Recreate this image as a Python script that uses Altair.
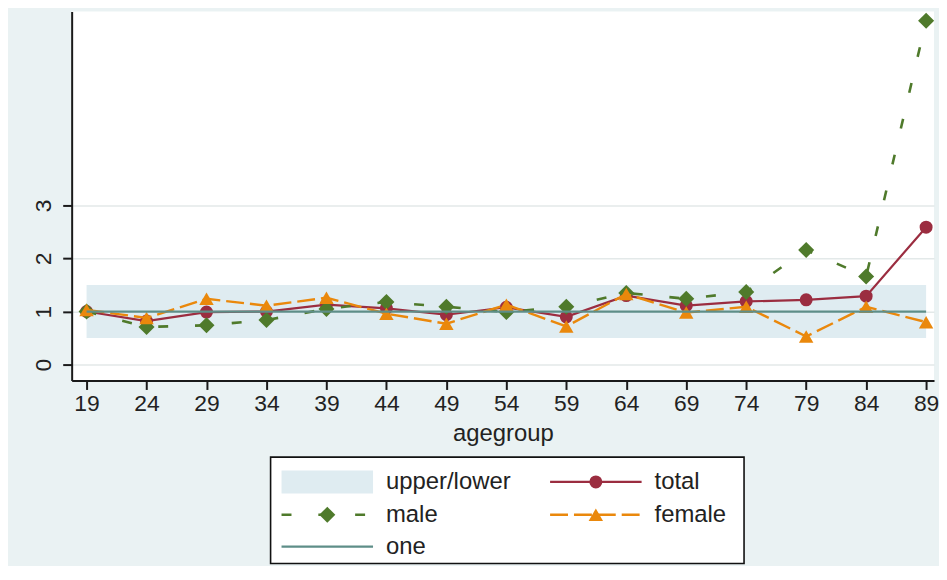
import altair as alt
import pandas as pd

# ---------------- data ----------------
ages = [19, 24, 29, 34, 39, 44, 49, 54, 59, 64, 69, 74, 79, 84, 89]
total = [1.00, 0.82, 0.99, 1.00, 1.13, 1.06, 0.94, 1.08, 0.90, 1.30, 1.11, 1.19, 1.22, 1.29, 2.59]
male = [1.00, 0.71, 0.74, 0.84, 1.05, 1.18, 1.09, 0.99, 1.09, 1.35, 1.24, 1.37, 2.16, 1.66, 6.48]
female = [1.03, 0.88, 1.24, 1.11, 1.26, 0.96, 0.77, 1.13, 0.72, 1.33, 0.98, 1.09, 0.53, 1.09, 0.80]
lower = [0.5, 0.5, 0.5, 0.5, 0.5, 0.5, 0.5, 0.5, 0.5, 0.5, 0.5, 0.5, 0.5, 0.5, 0.5]
upper = [1.5, 1.5, 1.5, 1.5, 1.5, 1.5, 1.5, 1.5, 1.5, 1.5, 1.5, 1.5, 1.5, 1.5, 1.5]
one = [1, 1, 1, 1, 1, 1, 1, 1, 1, 1, 1, 1, 1, 1, 1]
y_ticks = [0, 1, 2, 3]

legend_labels = ["upper/lower", "total", "male", "female", "one"]
legend_cols = [0, 1, 0, 1, 0]
legend_rows = [0, 0, 1, 1, 2]

# ---------------- styles ----------------
BG = "#eaf2f3"
BAND = "#dfecf1"
C_TOTAL = "#9b2d40"
C_MALE = "#4f7a2b"
C_FEMALE = "#ea880c"
C_ONE = "#5e8e88"
AX = "#1a1a1a"
TXT = "#222222"
FONT = "Liberation Sans"
DASH_MALE = [10, 27]
DASH_FEMALE = [18, 6]

PLOT_W = 867
PLOT_H = 371

df = pd.DataFrame({"age": ages, "total": total, "male": male, "female": female,
                   "lower": lower, "upper": upper, "one": one})

xs = alt.Scale(domain=[17.756, 89.66], nice=False, zero=False)
ys = alt.Scale(domain=[-0.3, 6.656], nice=False, zero=False)

xaxis = alt.Axis(values=ages, format="d", title="agegroup", grid=False,
                 domainColor=AX, domainWidth=2, tickColor=AX, tickWidth=2, tickSize=9,
                 labelFontSize=23, labelPadding=3, labelColor=TXT, labelFont=FONT,
                 titleFontSize=24, titleFontWeight="normal", titleColor=TXT, titleFont=FONT,
                 titlePadding=6)
yaxis = alt.Axis(values=y_ticks, format="d", title=None, grid=True, gridColor="#e3e9e9",
                 gridWidth=1.5, domainColor=AX, domainWidth=2, tickColor=AX, tickWidth=2,
                 tickSize=9, labelAngle=270, labelAlign="center", labelBaseline="alphabetic",
                 labelPadding=12, labelFontSize=23, labelColor=TXT, labelFont=FONT)

X = alt.X("age:Q", scale=xs, axis=xaxis)

band = alt.Chart(df).mark_area(color=BAND, opacity=1).encode(
    x=X, y=alt.Y("upper:Q", scale=ys, axis=yaxis), y2="lower:Q")

total_line = alt.Chart(df).mark_line(color=C_TOTAL, strokeWidth=2.2).encode(
    x="age:Q", y="total:Q")
total_pts = alt.Chart(df).mark_point(shape="circle", filled=True, size=170, color=C_TOTAL,
                                     opacity=1).encode(x="age:Q", y="total:Q")
male_line = alt.Chart(df).mark_line(color=C_MALE, strokeWidth=2.6, strokeDash=DASH_MALE).encode(
    x="age:Q", y="male:Q")
male_pts = alt.Chart(df).mark_point(shape="diamond", filled=True, size=260, color=C_MALE,
                                    opacity=1).encode(x="age:Q", y="male:Q")
female_line = alt.Chart(df).mark_line(color=C_FEMALE, strokeWidth=2.4,
                                      strokeDash=DASH_FEMALE).encode(x="age:Q", y="female:Q")
female_pts = alt.Chart(df).mark_point(shape="triangle-up", filled=True, size=210,
                                      color=C_FEMALE, opacity=1).encode(x="age:Q", y="female:Q")
one_line = alt.Chart(df).mark_line(color=C_ONE, strokeWidth=2.2).encode(x="age:Q", y="one:Q")

main = alt.layer(band, total_line, total_pts, male_line, male_pts, female_line, female_pts,
                 one_line).properties(width=PLOT_W, height=PLOT_H,
                                      view=alt.ViewBackground(fill="white", strokeWidth=0))

# ---------------- legend panel ----------------
COL_X0 = [211, 481]
SW_LEN = 92
ROW_Y = [25, 58, 90]
BOX_X = [200, 676]
BOX_H = 107

leg = pd.DataFrame({"label": legend_labels, "col": legend_cols, "row": legend_rows})
leg["x0"] = [COL_X0[c] for c in leg["col"]]
leg["x1"] = leg["x0"] + SW_LEN
leg["xm"] = leg["x0"] + SW_LEN / 2
leg["xt"] = leg["x0"] + 105
leg["y"] = [ROW_Y[r] for r in leg["row"]]
leg["y0"] = leg["y"] - 11.5
leg["y1"] = leg["y"] + 11.5

lxs = alt.Scale(domain=[0, PLOT_W], nice=False, zero=False)
lys = alt.Scale(domain=[0, BOX_H], nice=False, zero=False, reverse=True)

box_df = pd.DataFrame({"bx0": [BOX_X[0]], "bx1": [BOX_X[1]], "by0": [0], "by1": [BOX_H]})
box = alt.Chart(box_df).mark_rect(fill="white", stroke="#111111", strokeWidth=1.6).encode(
    x=alt.X("bx0:Q", scale=lxs, axis=None), x2="bx1:Q",
    y=alt.Y("by0:Q", scale=lys, axis=None), y2="by1:Q")

lb = alt.Chart(leg)


def sel(name):
    return lb.transform_filter(alt.datum.label == name)


sw_band = sel("upper/lower").mark_rect(fill=BAND).encode(
    x="x0:Q", x2="x1:Q", y="y0:Q", y2="y1:Q")
sw_total = sel("total").mark_rule(color=C_TOTAL, strokeWidth=2.2).encode(
    x="x0:Q", x2="x1:Q", y="y:Q")
sw_total_pt = sel("total").mark_point(shape="circle", filled=True, size=170, color=C_TOTAL,
                                      opacity=1).encode(x="xm:Q", y="y:Q")
sw_male = sel("male").mark_rule(color=C_MALE, strokeWidth=2.6, strokeDash=DASH_MALE).encode(
    x="x0:Q", x2="x1:Q", y="y:Q")
sw_male_pt = sel("male").mark_point(shape="diamond", filled=True, size=260, color=C_MALE,
                                    opacity=1).encode(x="xm:Q", y="y:Q")
sw_female = sel("female").mark_rule(color=C_FEMALE, strokeWidth=2.4,
                                    strokeDash=DASH_FEMALE).encode(x="x0:Q", x2="x1:Q", y="y:Q")
sw_female_pt = sel("female").mark_point(shape="triangle-up", filled=True, size=210,
                                        color=C_FEMALE, opacity=1).encode(x="xm:Q", y="y:Q")
sw_one = sel("one").mark_rule(color=C_ONE, strokeWidth=2.2).encode(x="x0:Q", x2="x1:Q", y="y:Q")
texts = lb.mark_text(align="left", baseline="middle", fontSize=24, font=FONT,
                     color=TXT).encode(x="xt:Q", y="y:Q", text="label:N")

legend = alt.layer(box, sw_band, sw_total, sw_total_pt, sw_male, sw_male_pt, sw_female,
                   sw_female_pt, sw_one, texts).properties(
    width=PLOT_W, height=BOX_H, view=alt.ViewBackground(fill=BG, strokeWidth=0))

chart = alt.vconcat(main, legend, spacing=11).properties(
    padding={"left": 25, "top": 2, "right": 0, "bottom": 0}
).configure(background=BG, font=FONT).configure_view(strokeWidth=0)

chart.save("out.html", embed_options={"renderer": "svg", "actions": False})
